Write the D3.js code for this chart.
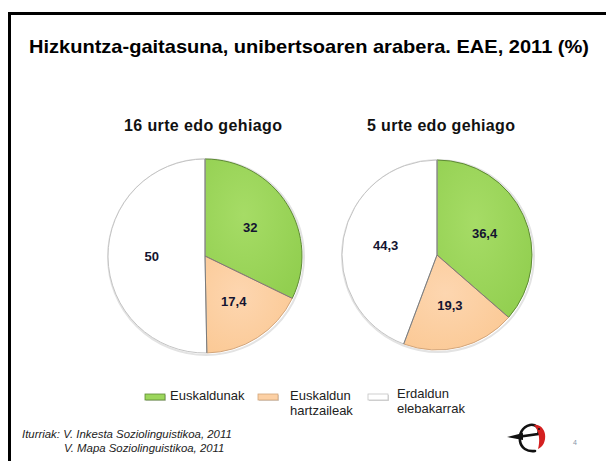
<!DOCTYPE html>
<html><head><meta charset="utf-8">
<script src="https://cdn.jsdelivr.net/npm/d3@7"></script>
<style>body{margin:0;background:#fff}svg{display:block}text{font-family:'Liberation Sans',Arial,sans-serif}</style>
</head><body>
<svg id="c" width="606" height="461"></svg>
<script>
const categories = ["Euskaldunak", "Euskaldun hartzaileak", "Erdaldun elebakarrak"];
const legendLines = [["Euskaldunak"], ["Euskaldun", "hartzaileak"], ["Erdaldun", "elebakarrak"]];
const groups = ["16 urte edo gehiago", "5 urte edo gehiago"];
const values16 = [32, 17.4, 50];
const values5 = [36.4, 19.3, 44.3];
const labels16 = ["32", "17,4", "50"];
const labels5 = ["36,4", "19,3", "44,3"];
const title = "Hizkuntza-gaitasuna, unibertsoaren arabera. EAE, 2011 (%)";
const sources = ["Iturriak: V. Inkesta Soziolinguistikoa, 2011", "V. Mapa Soziolinguistikoa,  2011"];

const fills = ["#9cd65c", "#fcd0a4", "#ffffff"];
const strokes = ["#5e8a34", "#d3a57a", "#c4c4c4"];

const svg = d3.select("#c");
const defs = svg.append("defs");
const g1 = defs.append("radialGradient").attr("id","gGreen").attr("cx","40%").attr("cy","40%").attr("r","70%");
g1.append("stop").attr("offset","0%").attr("stop-color","#a6dc66");
g1.append("stop").attr("offset","100%").attr("stop-color","#92cf50");
const g2 = defs.append("radialGradient").attr("id","gOr").attr("cx","40%").attr("cy","40%").attr("r","70%");
g2.append("stop").attr("offset","0%").attr("stop-color","#fdd6b0");
g2.append("stop").attr("offset","100%").attr("stop-color","#fbc995");
const fillUrl = ["url(#gGreen)", "url(#gOr)", "#ffffff"];

// frame
svg.append("path").attr("d","M9.5,470 V13.5 H620").attr("fill","none").attr("stroke","#000").attr("stroke-width",3);

svg.append("text").attr("x",309).attr("y",53).attr("text-anchor","middle")
  .attr("font-weight","bold")
  .attr("font-size",18.5).attr("textLength",560).attr("lengthAdjust","spacingAndGlyphs")
  .attr("fill","#000").text(title);

const pies = [
  {name: groups[0], vals: values16, labs: labels16, cx: 205, cy: 256, r: 97, tx: 203, tl: 158},
  {name: groups[1], vals: values5, labs: labels5, cx: 437, cy: 255, r: 95, tx: 441, tl: 148}
];
const pie = d3.pie().sort(null).value(d => d);
pies.forEach(p => {
  svg.append("text").attr("x", p.tx).attr("y", 131).attr("text-anchor","middle")
    .attr("font-weight","bold").attr("textLength",p.tl).attr("lengthAdjust","spacing")
    .attr("font-size",16).attr("fill","#111").text(p.name);
  const g = svg.append("g").attr("transform",`translate(${p.cx},${p.cy})`);
  const arc = d3.arc().innerRadius(0).outerRadius(p.r);
  const larc = d3.arc().innerRadius(p.r*0.55).outerRadius(p.r*0.55);
  const arcs = pie(p.vals);
  g.append("circle").attr("r", p.r+1).attr("cx",1).attr("cy",1).attr("fill","none").attr("stroke","#e3e3e3").attr("stroke-width",2);
  g.selectAll("path.s").data(arcs).join("path").attr("class","s")
    .attr("d", arc).attr("fill",(d,i)=>fillUrl[i]).attr("stroke",(d,i)=>strokes[i]).attr("stroke-width",1);
  g.selectAll("line.sep").data(arcs).join("line").attr("class","sep")
    .attr("x1",0).attr("y1",0)
    .attr("x2", d => p.r*Math.sin(d.startAngle)).attr("y2", d => -p.r*Math.cos(d.startAngle))
    .attr("stroke","#7a7a7a").attr("stroke-width",1);
  g.selectAll("text").data(arcs).join("text")
    .attr("transform", d => `translate(${larc.centroid(d)})`)
    .attr("text-anchor","middle").attr("dy","0.35em")
    .attr("font-weight","bold")
    .attr("font-size",13).attr("fill","#141430").text((d,i)=>p.labs[i]);
});

// legend
const legX = [145, 258, 368];
categories.forEach((c,i) => {
  const lg = svg.append("g");
  lg.append("rect").attr("x",legX[i]+1).attr("y",395).attr("width",20).attr("height",6).attr("fill","#bbb").attr("opacity",0.6);
  lg.append("rect").attr("x",legX[i]).attr("y",394).attr("width",20).attr("height",6)
    .attr("fill",fills[i]).attr("stroke",strokes[i]).attr("stroke-width",0.8);
  const t = lg.append("text").attr("font-size",13).attr("fill","#222");
  legendLines[i].forEach((ln,j) => {
    t.append("tspan").attr("x", legX[i] + (i===0?25:(i===1?32:29))).attr("y", (i===2?398:400) + j*15).text(ln);
  });
});

// sources
svg.append("text").attr("x",22).attr("y",438)
  .attr("font-style","italic").attr("font-size",11.4).attr("fill","#222").text(sources[0]);
svg.append("text").attr("x",64).attr("y",452)
  .attr("font-style","italic").attr("font-size",11.4).attr("fill","#222").text(sources[1]);

// logo
const logo = svg.append("g").attr("transform","translate(505,420)");
logo.append("path").attr("d","M2,17 L18,13 L18,20 Z").attr("fill","#111");
logo.append("path").attr("d","M12,17 L33,14 C36,8 30,4 25,5 C17,7 14,14 15,21 C16,28 22,32 30,31")
  .attr("fill","none").attr("stroke","#111").attr("stroke-width",2.6).attr("stroke-linecap","round");
logo.append("path").attr("d","M29,5 C34,4 39,8 40,14 C41,21 38,27 33,29 C35,22 35,12 29,5 Z").attr("fill","#d42020");
logo.append("circle").attr("cx",34).attr("cy",9).attr("r",1).attr("fill","#111");
svg.append("text").attr("x",573).attr("y",445)
  .attr("font-size",7).attr("fill","#8896a8").text("4");
</script>
</body></html>
